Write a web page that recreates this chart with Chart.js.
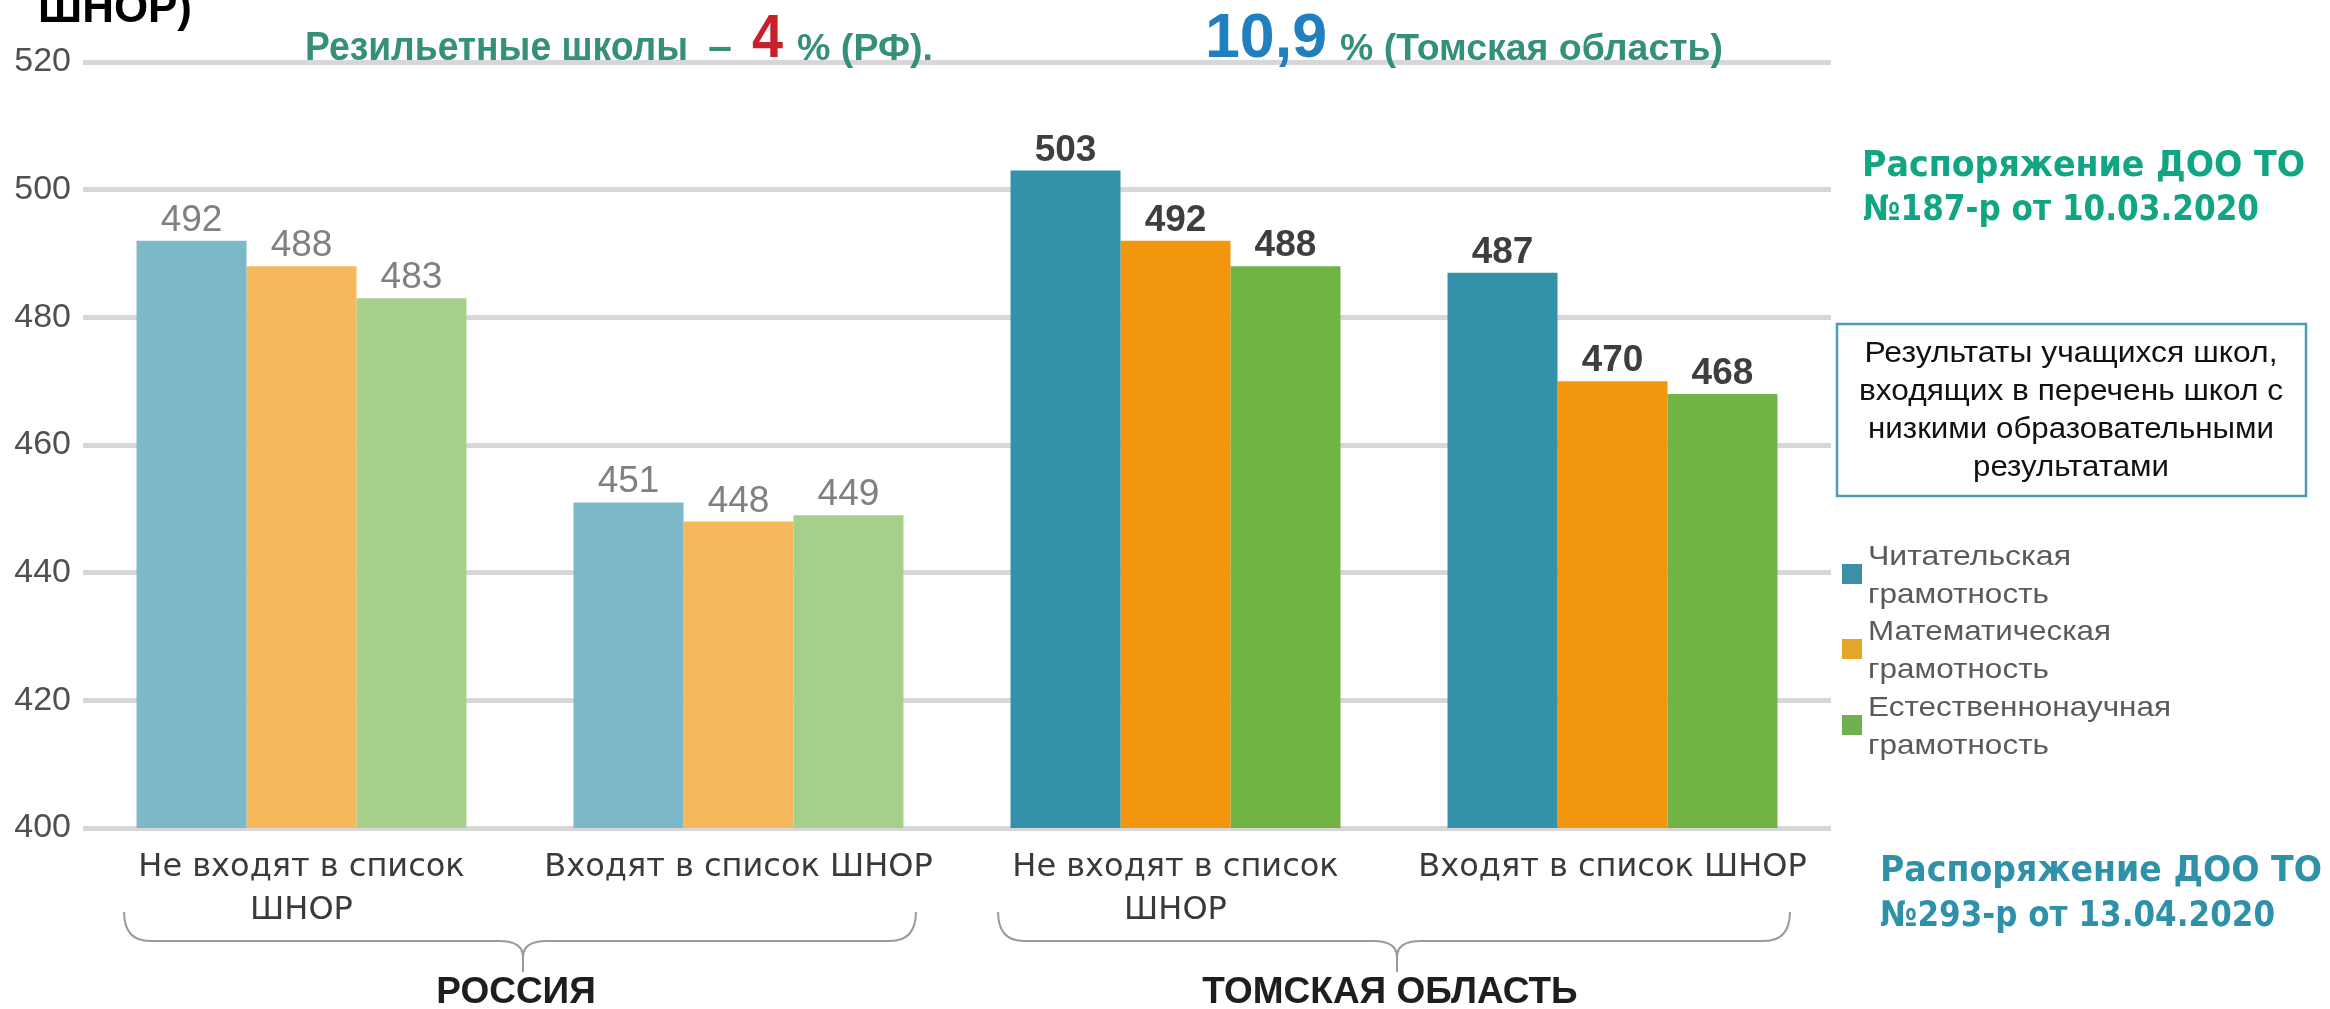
<!DOCTYPE html>
<html lang="ru">
<head>
<meta charset="utf-8">
<title>Результаты PISA: школы из списка ШНОР</title>
<script src="https://cdn.jsdelivr.net/npm/chart.js@4.4.1/dist/chart.umd.min.js"></script>
<style>
  html, body { margin: 0; padding: 0; background: #ffffff; }
  #wrap { width: 2330px; height: 1009px; position: relative; overflow: hidden; }
  canvas { display: block; }
</style>
</head>
<body>
<div id="wrap"><canvas id="c" width="2330" height="1009"></canvas></div>
<script>
// ---------- DATA ----------
const categories = [
  ['Не входят в список', 'ШНОР'],
  'Входят в список ШНОР',
  ['Не входят в список', 'ШНОР'],
  'Входят в список ШНОР'
];
const regionNames = ['РОССИЯ', 'ТОМСКАЯ ОБЛАСТЬ'];
const seriesNames = [
  ['Читательская', 'грамотность'],
  ['Математическая', 'грамотность'],
  ['Естественнонаучная', 'грамотность']
];
const readingValues = [492, 451, 503, 487];
const mathValues = [488, 448, 492, 470];
const scienceValues = [483, 449, 488, 468];
const yMin = 400, yMax = 520, yStep = 20;

const headerTexts = {
  cut: 'ШНОР)',
  rfLabel: 'Резильетные школы',
  dash: '–',
  rfValue: '4',
  rfSuffix: '% (РФ).',
  toValue: '10,9',
  toSuffix: '% (Томская область)'
};
const order1 = ['Распоряжение ДОО ТО', '№187-р от 10.03.2020'];
const order2 = ['Распоряжение ДОО ТО', '№293-р от 13.04.2020'];
const noteLines = ['Результаты учащихся школ,', 'входящих в перечень школ с', 'низкими образовательными', 'результатами'];

// ---------- STYLE ----------
const lightColors = ['#7db8c8', '#f5b95c', '#a6cf8b'];
const darkColors  = ['#3391a9', '#f2960e', '#71b345'];
const legendColors = ['#3d8fa7', '#e3a629', '#6fb151'];
function colorsFor(i) { return [lightColors[i], lightColors[i], darkColors[i], darkColors[i]]; }

function txt(ctx, s, x, y, font, color, align, targetW) {
  ctx.save();
  ctx.font = font;
  ctx.fillStyle = color;
  ctx.textBaseline = 'alphabetic';
  ctx.textAlign = align || 'left';
  const w = ctx.measureText(s).width;
  const sx = targetW ? targetW / w : 1;
  ctx.translate(x, y);
  ctx.scale(sx, 1);
  ctx.fillText(s, 0, 0);
  ctx.restore();
}

const valueLabels = {
  id: 'valueLabels',
  afterDatasetsDraw(chart) {
    const ctx = chart.ctx;
    chart.data.datasets.forEach((ds, i) => {
      const meta = chart.getDatasetMeta(i);
      meta.data.forEach((bar, j) => {
        const dark = j >= 2;
        txt(ctx, String(ds.data[j]), bar.x, bar.y - 10,
            (dark ? 'bold ' : '') + '37px "Liberation Sans", Arial, sans-serif',
            dark ? '#3e3e3e' : '#808080', 'center');
      });
    });
  }
};

function brace(ctx, L, R, cx, yTop, yH, yTip) {
  ctx.save();
  ctx.strokeStyle = '#9a9a9a';
  ctx.lineWidth = 2;
  ctx.beginPath();
  ctx.moveTo(L, yTop);
  ctx.quadraticCurveTo(L, yH, L + 26, yH);
  ctx.lineTo(cx - 24, yH);
  ctx.quadraticCurveTo(cx, yH, cx, yH + 16);
  ctx.lineTo(cx, yTip);
  ctx.moveTo(cx, yH + 16);
  ctx.quadraticCurveTo(cx, yH, cx + 24, yH);
  ctx.lineTo(R - 26, yH);
  ctx.quadraticCurveTo(R, yH, R, yTop);
  ctx.stroke();
  ctx.restore();
}

const decorations = {
  id: 'decorations',
  afterDraw(chart) {
    const ctx = chart.ctx;
    const xs = chart.scales.x;
    const green = '#34907a';
    // header
    txt(ctx, headerTexts.cut, 38, 22, 'bold 45px "Liberation Sans", Arial, sans-serif', '#000000', 'left', 154);
    txt(ctx, headerTexts.rfLabel, 305, 60, 'bold 40px "Liberation Sans", Arial, sans-serif', green, 'left', 383);
    txt(ctx, headerTexts.dash, 708, 60, 'bold 40px "Liberation Sans", Arial, sans-serif', green, 'left', 24);
    txt(ctx, headerTexts.rfValue, 752, 57, 'bold 61px "Liberation Sans", Arial, sans-serif', '#c81f29', 'left', 31);
    txt(ctx, headerTexts.rfSuffix, 797, 60, 'bold 36px "Liberation Sans", Arial, sans-serif', green, 'left', 136);
    const g = ctx.createLinearGradient(0, 12, 0, 57);
    g.addColorStop(0, '#1f7fbf'); g.addColorStop(1, '#34a6dc');
    txt(ctx, headerTexts.toValue, 1205, 57, 'bold 63px "Liberation Sans", Arial, sans-serif', g, 'left', 122);
    txt(ctx, headerTexts.toSuffix, 1340, 60, 'bold 36px "Liberation Sans", Arial, sans-serif', green, 'left', 383);

    // right annotations
    const f2 = 'bold 35px "DejaVu Sans", sans-serif';
    txt(ctx, order1[0], 1862, 176, f2, '#12a583', 'left', 443);
    txt(ctx, order1[1], 1863, 220, f2, '#12a583', 'left', 396);
    txt(ctx, order2[0], 1880, 881, f2, '#2e90a9', 'left', 442);
    txt(ctx, order2[1], 1880, 926, f2, '#2e90a9', 'left', 395);

    // note box
    ctx.save();
    ctx.strokeStyle = '#4c9cb3';
    ctx.lineWidth = 2.5;
    ctx.strokeRect(1837, 324, 469, 172);
    ctx.restore();
    const nw = [413, 424, 406, 196];
    noteLines.forEach((s, k) => {
      txt(ctx, s, 2071, 362 + k * 38, '29px "Liberation Sans", Arial, sans-serif', '#111111', 'center', nw[k]);
    });

    // legend
    const legY = [565, 640, 716];
    const legW = [[203, 181], [243, 181], [303, 181]];
    chart.data.datasets.forEach((ds, i) => {
      ctx.fillStyle = legendColors[i];
      ctx.fillRect(1842, legY[i] - 1, 20, 20);
      txt(ctx, seriesNames[i][0], 1868, legY[i], '28px "Liberation Sans", Arial, sans-serif', '#5a5a5a', 'left', legW[i][0]);
      txt(ctx, seriesNames[i][1], 1868, legY[i] + 38, '28px "Liberation Sans", Arial, sans-serif', '#5a5a5a', 'left', legW[i][1]);
    });

    // region braces
    for (let r = 0; r < 2; r++) {
      const p0 = xs.getPixelForValue(r * 2), p1 = xs.getPixelForValue(r * 2 + 1);
      const cx = (p0 + p1) / 2;
      const half = (p1 - p0) * 0.906;
      brace(ctx, cx - half, cx + half, cx + 3, 912, 941, 972);
      txt(ctx, regionNames[r], cx - 4, 1003, 'bold 37px "Liberation Sans", Arial, sans-serif', '#1e1e1e', 'center');
    }
  }
};

const datasets = [readingValues, mathValues, scienceValues].map((vals, i) => ({
  label: seriesNames[i].join(' '),
  data: vals,
  backgroundColor: colorsFor(i),
  borderWidth: 0,
  categoryPercentage: 0.755,
  barPercentage: 1.0
}));

new Chart(document.getElementById('c'), {
  type: 'bar',
  data: { labels: categories, datasets },
  options: {
    responsive: false,
    devicePixelRatio: 1,
    animation: false,
    layout: { padding: { left: 0, right: 499, top: 62, bottom: 61 } },
    plugins: { legend: { display: false }, tooltip: { enabled: false }, title: { display: false } },
    scales: {
      x: {
        grid: { display: false },
        border: { display: false },
        ticks: {
          font: { family: '"DejaVu Sans", sans-serif', size: 32, lineHeight: 1.35 },
          color: '#3a3a3a',
          padding: 10,
          maxRotation: 0,
          autoSkip: false
        },
        afterFit(s) { s.height = 120; }
      },
      y: {
        min: yMin, max: yMax,
        grid: { color: '#d7d7d7', lineWidth: 5, drawTicks: false },
        border: { display: false },
        ticks: {
          stepSize: yStep,
          font: { family: '"Liberation Sans", Arial, sans-serif', size: 34 },
          color: '#505050',
          padding: 12
        },
        afterFit(s) { s.width = 83; }
      }
    }
  },
  plugins: [valueLabels, decorations]
});
</script>
</body>
</html>
